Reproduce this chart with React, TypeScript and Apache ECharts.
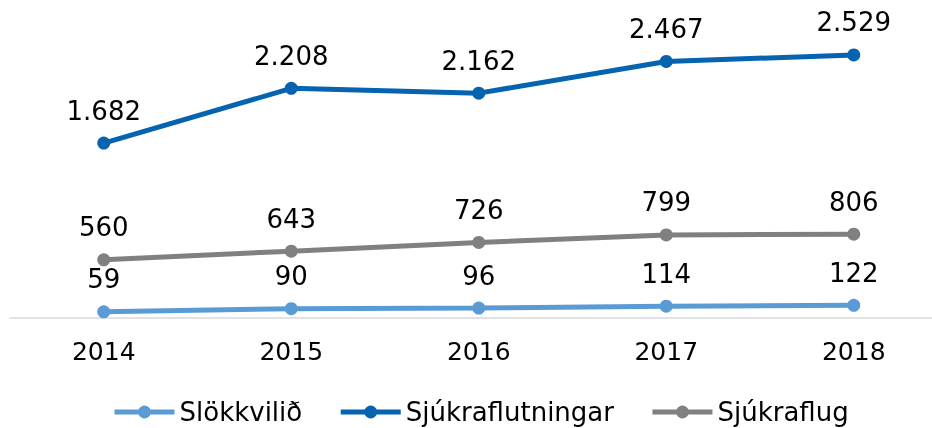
import React, { useEffect, useRef } from "react";
import * as echarts from "echarts";

const years = ["2014", "2015", "2016", "2017", "2018"];
const slokkvilid = [59, 90, 96, 114, 122];
const sjukraflutningar = [1682, 2208, 2162, 2467, 2529];
const sjukraflug = [560, 643, 726, 799, 806];

const FONT = "'DejaVu Sans', Verdana, sans-serif";
const fmt = (v: number) => String(v).replace(/\B(?=(\d{3})+(?!\d))/g, ".");

export default function App() {
  const ref = useRef<HTMLDivElement>(null);
  useEffect(() => {
    if (!ref.current) return;
    const chart = echarts.init(ref.current, null, { renderer: "svg" });
    const mk = (name: string, data: number[], color: string) => ({
      name,
      type: "line",
      data,
      symbol: "circle",
      symbolSize: 13,
      lineStyle: { width: 5, color },
      itemStyle: { color },
      label: {
        show: true,
        position: "top",
        distance: 13,
        fontFamily: FONT,
        fontSize: 26,
        color: "#000",
        formatter: (p: any) => fmt(p.value),
      },
    });
    chart.setOption({
      animation: false,
      grid: { left: 10, width: 937.5, top: 6, bottom: 110, outerBoundsMode: "none" },
      legend: {
        top: 393,
        left: 107,
        itemWidth: 60,
        itemHeight: 16,
        itemGap: 36,
        lineStyle: { width: 5 },
        textStyle: { fontFamily: FONT, fontSize: 26, color: "#000", lineHeight: 28 },
        data: ["Slökkvilið", "Sjúkraflutningar", "Sjúkraflug"],
      },
      xAxis: {
        type: "category",
        data: years,
        boundaryGap: true,
        axisLine: { show: true, lineStyle: { color: "#d9d9d9", width: 1.5 } },
        axisTick: { show: false },
        axisLabel: { fontFamily: FONT, fontSize: 25, color: "#000", margin: 21 },
      },
      yAxis: {
        type: "value",
        min: 0,
        max: 3000,
        show: false,
        splitLine: { show: false },
      },
      series: [
        mk("Slökkvilið", slokkvilid, "#5b9bd5"),
        mk("Sjúkraflutningar", sjukraflutningar, "#0563b0"),
        mk("Sjúkraflug", sjukraflug, "#808080"),
      ],
    });
    return () => chart.dispose();
  }, []);
  return (
    <div style={{ position: "fixed", left: 0, top: 0, width: 932, height: 428, overflow: "visible" }}>
      <div ref={ref} style={{ width: 932, height: 428 }} />
    </div>
  );
}
